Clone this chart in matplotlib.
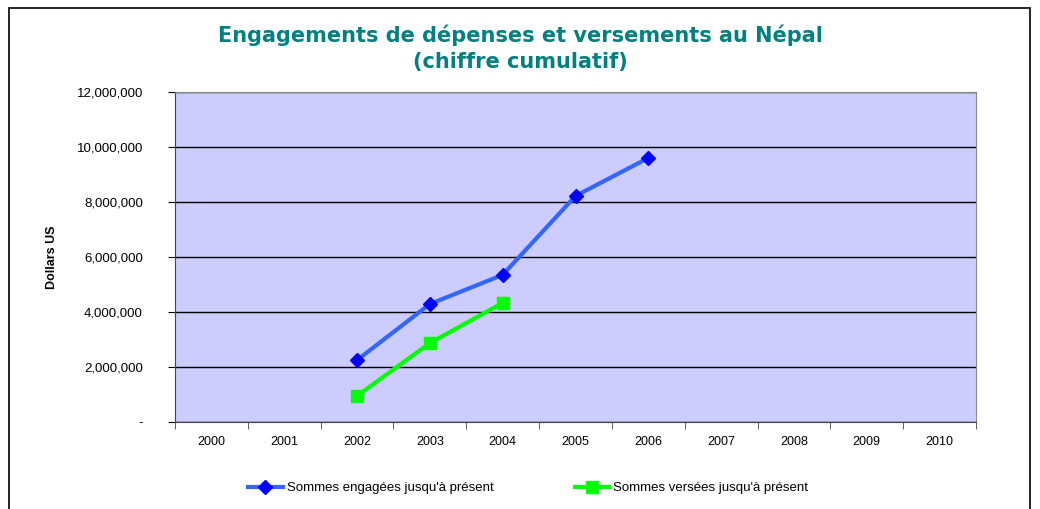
import matplotlib.pyplot as plt
import matplotlib.patches as patches
from matplotlib.ticker import FuncFormatter

years = ['2000', '2001', '2002', '2003', '2004', '2005', '2006', '2007', '2008', '2009', '2010']
engaged_years = ['2002', '2003', '2004', '2005', '2006']
engaged = [2250000, 4290000, 5350000, 8220000, 9600000]
paid_years = ['2002', '2003', '2004']
paid = [950000, 2870000, 4330000]

plt.rcParams['font.family'] = ['Liberation Sans', 'DejaVu Sans']

fig = plt.figure(figsize=(10.4, 5.09), dpi=100)
ax = fig.add_axes([175 / 1040, 1 - 422 / 509, (976 - 175) / 1040, (422 - 92) / 509])

# outer frame of the chart area
fig.patches.append(patches.Rectangle((9 / 1040, -0.1), (1030 - 9) / 1040, 1 - 8 / 509 + 0.1,
                                     transform=fig.transFigure, fill=False,
                                     edgecolor='black', linewidth=1.2))

xpos = {y: i for i, y in enumerate(years)}
ax.set_facecolor('#CCCCFF')
ax.plot([xpos[y] for y in engaged_years], engaged, color='#3366FF', linewidth=3,
        marker='D', markersize=7, markerfacecolor='#0000FF', markeredgecolor='#0000FF',
        label="Sommes engagées jusqu'à présent", zorder=3)
ax.plot([xpos[y] for y in paid_years], paid, color='#00FF00', linewidth=3,
        marker='s', markersize=9, markerfacecolor='#00FF00', markeredgecolor='#00FF00',
        label="Sommes versées jusqu'à présent", zorder=3)

ax.set_xlim(-0.5, len(years) - 0.5)
ax.set_ylim(0, 12000000)
ax.set_yticks(range(0, 12000001, 2000000))
ax.yaxis.set_major_formatter(FuncFormatter(lambda v, p: '-' if v == 0 else f'{int(v):,}'))
ax.set_xticks(range(len(years)))
ax.set_xticklabels(years)
ax.set_xticks([i - 0.5 for i in range(len(years) + 1)], minor=True)
ax.tick_params(axis='x', which='major', length=0, labelsize=9, pad=10)
ax.tick_params(axis='x', which='minor', length=5, direction='out', color='#444444')
ax.tick_params(axis='y', length=5, direction='out', labelsize=9.5, pad=18)
ax.grid(axis='y', color='black', linewidth=1)
ax.set_axisbelow(True)

for s in ['top', 'right']:
    ax.spines[s].set_color('#888888')
ax.spines['left'].set_color('#444444')
ax.spines['bottom'].set_color('#444444')

ax.set_ylabel('Dollars US', fontsize=9, fontweight='bold')
ax.yaxis.set_label_coords((58 - 175) / 801, 0.5)

fig.text(0.5, 1 - 48 / 509, 'Engagements de dépenses et versements au Népal\n(chiffre cumulatif)',
         ha='center', va='center', fontsize=15, fontweight='bold', color='#008080',
         family=['DejaVu Sans'], linespacing=1.35)

fig.legend(loc='center', bbox_to_anchor=(0.508, 1 - 488 / 509), ncol=2, frameon=False,
           fontsize=9.5, columnspacing=6.2, handlelength=2.6, handletextpad=0.3)

plt.savefig('out.png', dpi=100)
